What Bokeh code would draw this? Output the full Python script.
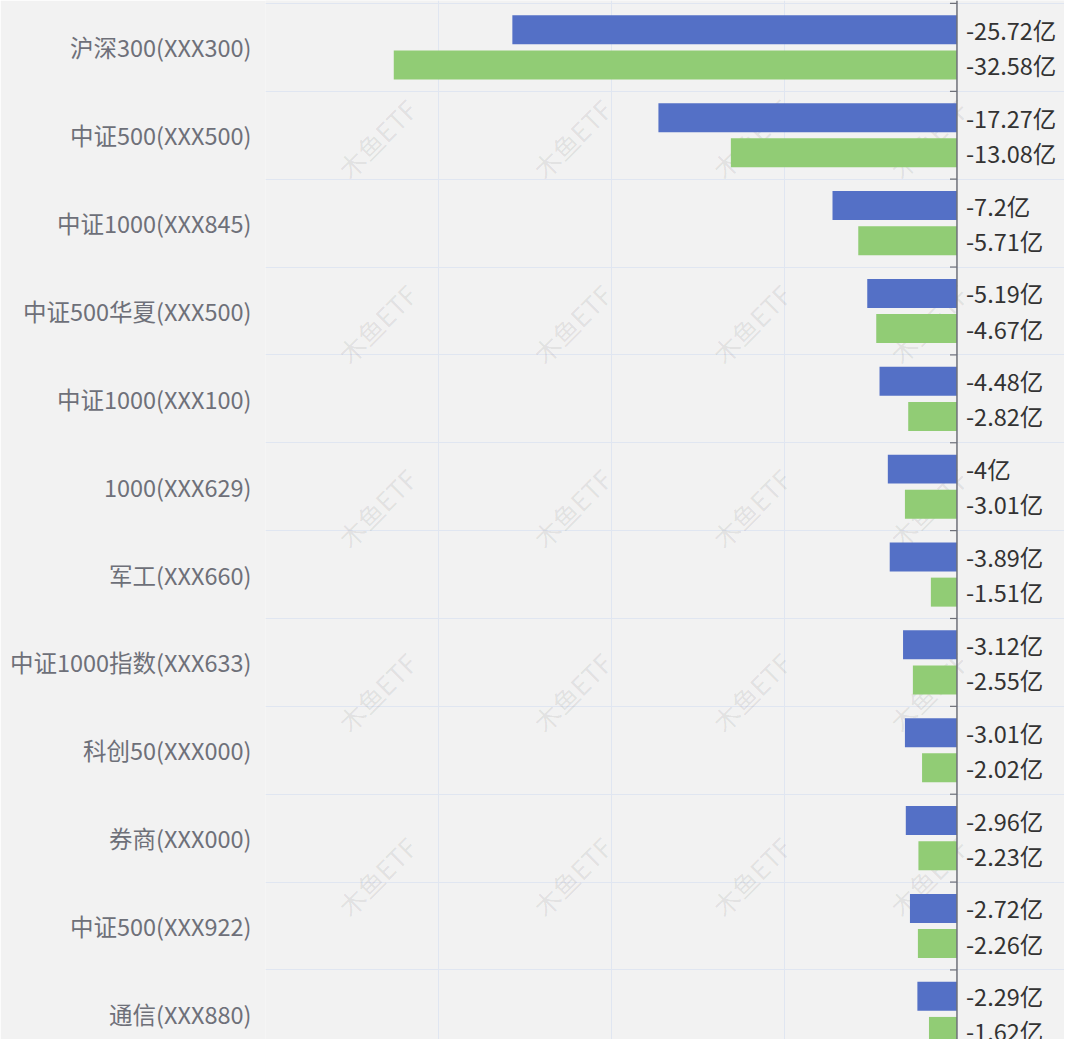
import math
from bokeh.plotting import figure
from bokeh.models import (ColumnDataSource, Range1d, FixedTicker, LinearAxis, Grid,
                          Span, Label)
from bokeh.transform import dodge
from bokeh.core.properties import value
from bokeh.embed import file_html
from bokeh.resources import INLINE

# ---------------- data ----------------
categories = ["沪深300(XXX300)", "中证500(XXX500)", "中证1000(XXX845)", "中证500华夏(XXX500)",
              "中证1000(XXX100)", "1000(XXX629)", "军工(XXX660)", "中证1000指数(XXX633)",
              "科创50(XXX000)", "券商(XXX000)", "中证500(XXX922)", "通信(XXX880)"]
series_a = [-25.72, -17.27, -7.2, -5.19, -4.48, -4, -3.89, -3.12, -3.01, -2.96, -2.72, -2.29]
series_b = [-32.58, -13.08, -5.71, -4.67, -2.82, -3.01, -1.51, -2.55, -2.02, -2.23, -2.26, -1.62]
x_ticks = [-40, -30, -20, -10]
unit = "亿"
watermark = "木鱼ETF"

# ---------------- styling constants ----------------
FONT = "Noto Sans CJK SC"
BG = "#f2f2f2"
BLUE = "#5470c6"
GREEN = "#91cc75"
GRID = "#e0e6f1"
AXIS = "#6e7079"

S = 0.985                      # reference 1080x1055 -> figure 1064x1039
W, H = 1064, 1039
LEFT = round(269 * S)          # frame left inside figure
PPU = 17.55 * S                # pixels per unit on x
BAND = 89.2 * S                # pixels per category band
TOP_OFF = 3 * S                # first category boundary below figure top
FS = f"{23.5:.1f}px"

x_start = -40
x_end = x_start + (W - LEFT) / PPU
y_top = -0.5 - TOP_OFF / BAND
y_bottom = y_top + H / BAND

idx = list(range(len(categories)))
src = ColumnDataSource(dict(
    pos=idx,
    a=series_a,
    b=series_b,
    la=[f"{v:g}{unit}" for v in series_a],
    lb=[f"{v:g}{unit}" for v in series_b],
))

p = figure(width=W, height=H, output_backend="svg", toolbar_location=None,
           x_range=Range1d(x_start, x_end), y_range=Range1d(y_bottom, y_top),
           x_axis_location=None, y_axis_location=None,
           min_border_left=LEFT, min_border_right=0, min_border_top=0, min_border_bottom=0,
           background_fill_color=BG, border_fill_color=BG, outline_line_color=None)

# drop any default grids, then add our own
p.center = [r for r in p.center if not isinstance(r, Grid)]
p.add_layout(Grid(dimension=0, ticker=FixedTicker(ticks=x_ticks),
                  grid_line_color=GRID, grid_line_width=1))
p.add_layout(Grid(dimension=1, ticker=FixedTicker(ticks=[i - 0.5 for i in range(len(categories) + 1)]),
                  grid_line_color=GRID, grid_line_width=1))

# category axis on the left
yaxis = LinearAxis(ticker=FixedTicker(ticks=idx),
                   major_label_overrides={i: c for i, c in enumerate(categories)},
                   axis_line_color=None, major_tick_line_color=None, minor_tick_line_color=None,
                   major_tick_out=0, major_tick_in=0, major_label_standoff=14,
                   major_label_text_font=FONT, major_label_text_font_size=FS,
                   major_label_text_color=AXIS)
p.add_layout(yaxis, "left")

# faint tiled watermark (under the bars)
for py in (140, 328, 515, 702, 889):
    for px in (382, 580, 762, 942):
        p.add_layout(Label(x=(px - 971) * S / PPU, y=(py - 3) * S / BAND - 0.5,
                           text=watermark, angle=math.pi / 4,
                           text_align="center", text_baseline="middle",
                           text_font=FONT, text_font_size="26px",
                           text_color="#000000", text_alpha=0.08, level="underlay"))

BAR_H = 0.33
OFF = 0.2
p.hbar(y=dodge("pos", -OFF), left=0, right="a", height=BAR_H, source=src,
       fill_color=BLUE, line_color=None)
p.hbar(y=dodge("pos", OFF), left=0, right="b", height=BAR_H, source=src,
       fill_color=GREEN, line_color=None)

# zero axis line with ticks between categories
p.add_layout(Span(location=0, dimension="height", line_color=AXIS, line_width=1.5))
bounds = [i - 0.5 for i in range(len(categories) + 1)]
tick_len = 7 / PPU
p.segment(x0=[-tick_len] * len(bounds), x1=[0] * len(bounds), y0=bounds, y1=bounds,
          line_color=AXIS, line_width=1.2)

# value labels
for col, off in (("la", -OFF), ("lb", OFF)):
    p.text(x=0, y=dodge("pos", off), text=col, source=src, x_offset=9,
           text_align="left", text_baseline="middle",
           text_font=value(FONT), text_font_size=FS, text_color="#333333")

open("out.html", "w").write(file_html(p, INLINE))
